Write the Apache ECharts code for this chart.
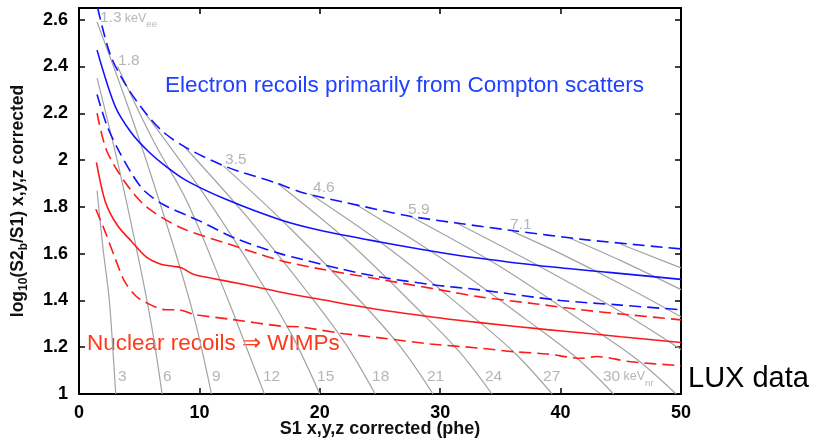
<!DOCTYPE html>
<html>
<head>
<meta charset="utf-8">
<script src="https://cdn.jsdelivr.net/npm/echarts@6/dist/echarts.min.js"></script>
<style>
  html, body { margin: 0; padding: 0; background: #ffffff; }
  #chart { width: 813px; height: 439px; }
</style>
</head>
<body>
<div id="chart"></div>
<script>
// Electron-recoil band: median and upper/lower bounds, [S1 (phe), log10(S2b/S1)]
const erMedian = [[1.5,2.47],[3,2.23],[4.3,2.12],[5.7,2.04],[7.3,1.97],[9,1.91],[12.3,1.83],[16.7,1.745],[20,1.70],[25,1.65],[30,1.605],[33.3,1.58],[38.3,1.548],[44,1.52],[50,1.49]];
const erUpper = [[1.55,2.65],[2.6,2.45],[3.9,2.32],[5.4,2.21],[7,2.12],[9,2.05],[12.3,1.97],[16.5,1.90],[18.6,1.86],[22,1.82],[27.5,1.76],[31.5,1.73],[35.8,1.70],[42,1.66],[50,1.62]];
const erLower = [[1.5,2.28],[2.3,2.15],[3.2,2.05],[4.4,1.94],[5.4,1.87],[7,1.81],[10,1.74],[13,1.665],[16.7,1.60],[18.6,1.575],[21.7,1.535],[25,1.50],[29.4,1.467],[33.3,1.445],[40,1.40],[45,1.38],[50,1.36]];

// Nuclear-recoil band: median and upper/lower bounds
const nrMedian = [[1.45,1.99],[2.2,1.82],[3.2,1.72],[4.4,1.65],[5.6,1.585],[6.8,1.555],[7.8,1.546],[8.5,1.54],[9.5,1.512],[11,1.495],[13.5,1.47],[16.8,1.435],[20,1.405],[25,1.36],[30,1.325],[33.3,1.305],[38.9,1.275],[41.7,1.262],[45,1.245],[50,1.22]];
const nrUpper = [[1.5,2.2],[2.3,2.04],[3.9,1.90],[5.6,1.80],[8.5,1.71],[12.5,1.64],[16.8,1.57],[20,1.535],[25,1.49],[30,1.445],[33.3,1.415],[38,1.385],[41.7,1.36],[45,1.342],[50,1.317]];
const nrLower = [[1.4,1.79],[2.2,1.69],[3.0,1.58],[3.8,1.48],[4.7,1.42],[5.4,1.395],[7.2,1.36],[8.2,1.36],[9.6,1.34],[12.5,1.32],[16.8,1.29],[18.3,1.287],[21.7,1.26],[25,1.24],[29.2,1.214],[33.3,1.196],[36.1,1.181],[38.9,1.171],[41.7,1.153],[43,1.16],[45.8,1.138],[50,1.121]];

// Constant-energy contours (3 to 45 keVnr in steps of 3)
const contour3  = [[1.5,1.87],[2.0,1.62],[2.5,1.41],[2.8,1.2],[3.05,1.0]];
const contour6  = [[1.5,2.35],[3.3,1.97],[5.1,1.54],[6.1,1.27],[6.9,1.0]];
const contour9  = [[1.5,2.59],[4.6,2.15],[7.8,1.64],[9.6,1.32],[11.0,1.0]];
const contour12 = [[3.2,2.40],[6.2,2.08],[9,1.82],[12.4,1.4],[13.9,1.2],[15.4,1.0]];
const contour15 = [[5.5,2.2],[10.3,1.86],[15.1,1.48],[17.8,1.24],[20,1.0]];
const contour18 = [[8.7,2.06],[13.9,1.76],[19.2,1.42],[22.2,1.21],[24.6,1.0]];
const contour21 = [[12,1.975],[17.7,1.70],[23.5,1.39],[26.8,1.195],[29.4,1.0]];
const contour24 = [[16.5,1.9],[22.4,1.65],[28.2,1.36],[31.6,1.18],[34.3,1.0]];
const contour27 = [[19.2,1.855],[25.8,1.62],[32.5,1.34],[36.3,1.17],[39.3,1.0]];
const contour30 = [[23,1.81],[30.1,1.58],[37.1,1.32],[41.2,1.16],[44.4,1.0]];
const contour33 = [[27.5,1.76],[34.8,1.55],[42.1,1.30],[46.3,1.15],[49.6,1.0]];
const contour36 = [[31.4,1.73],[37,1.58],[43,1.41],[47,1.29],[50,1.19]];
const contour39 = [[36,1.695],[40,1.60],[45,1.47],[50,1.33]];
const contour42 = [[40.6,1.67],[45,1.57],[50,1.446]];
const contour45 = [[45,1.64],[50,1.539]];
const contours = [contour3, contour6, contour9, contour12, contour15, contour18, contour21,
                  contour24, contour27, contour30, contour33, contour36, contour39, contour42, contour45];

// Contour labels: nuclear-recoil energies near the bottom, electron-equivalent ones near the top
const nrLabelText = ['3','6','9','12','15','18','21','24','27','30'];
const nrLabelS1   = [3.24, 6.98, 11.05, 15.28, 19.77, 24.34, 28.9, 33.72, 38.54, 43.52];
const nrLabelY    = 1.073;
const eeLabelText = ['1.3','1.8','3.5','4.6','5.9','7.1'];
const eeLabelPos  = [[1.74,2.607],[3.24,2.423],[12.13,2.0],[19.44,1.881],[27.33,1.787],[35.8,1.722]];

const BLUE = '#1111ff';
const RED = '#ff1a1a';
const GREY = '#a3a3a3';
const FONT = '"Liberation Sans", Arial, Helvetica, sans-serif';

const chart = echarts.init(document.getElementById('chart'), null, { renderer: 'canvas' });

const series = [];
contours.forEach(function (c) {
  series.push({
    type: 'line', data: c, showSymbol: false, smooth: 0.35, silent: true, z: 1,
    lineStyle: { color: GREY, width: 1.2 }
  });
});
function band(data, color, dashed) {
  return {
    type: 'line', data: data, showSymbol: false, smooth: 0.3, silent: true, z: 3,
    lineStyle: { color: color, width: 1.6, type: dashed ? [12, 6] : 'solid' }
  };
}
series.push(band(erUpper, BLUE, true), band(erMedian, BLUE, false), band(erLower, BLUE, true));
series.push(band(nrUpper, RED, true), band(nrMedian, RED, false), band(nrLower, RED, true));

// label anchors
const nrLabelData = nrLabelText.map(function (t, i) {
  return [nrLabelS1[i], nrLabelY, i === nrLabelText.length - 1 ? '{n|' + t + '} {k|keV}{s|nr}' : '{n|' + t + '}'];
});
const eeLabelData = eeLabelText.map(function (t, i) {
  return [eeLabelPos[i][0], eeLabelPos[i][1], i === 0 ? '{n|' + t + '} {k|keV}{s|ee}' : '{n|' + t + '}'];
});
const labelRich = {
  n: { fontSize: 15.5, color: GREY, fontFamily: FONT, lineHeight: 22, verticalAlign: 'middle' },
  k: { fontSize: 12.5, color: GREY, fontFamily: FONT, lineHeight: 22, verticalAlign: 'middle' },
  s: { fontSize: 9.5, color: GREY, fontFamily: FONT, lineHeight: 10, verticalAlign: 'bottom' }
};
[nrLabelData, eeLabelData].forEach(function (d) {
  series.push({
    type: 'scatter', data: d, symbolSize: 0, silent: true, z: 4,
    label: {
      show: true, position: 'inside', align: 'left', verticalAlign: 'middle',
      formatter: function (p) { return p.data[2]; }, rich: labelRich
    }
  });
});

const option = {
  backgroundColor: '#ffffff',
  animation: false,
  grid: { left: 79, right: 132, top: 8, bottom: 45, containLabel: false, outerBoundsMode: 'none' },
  xAxis: [{
    type: 'value', min: 0, max: 50, interval: 10, position: 'bottom',
    name: 'S1 x,y,z corrected (phe)', nameLocation: 'middle', nameGap: 26, nameMoveOverlap: false,
    nameTextStyle: { fontFamily: FONT, fontWeight: 'bold', fontSize: 18, color: '#111' },
    axisLine: { show: true, onZero: false, lineStyle: { color: '#000', width: 2 } },
    axisTick: { show: true, inside: true, length: 6, lineStyle: { color: '#000', width: 1.5 } },
    axisLabel: { fontFamily: FONT, fontWeight: 'bold', fontSize: 18, color: '#000', margin: 10 },
    splitLine: { show: false }
  }, {
    type: 'value', min: 0, max: 50, interval: 10, position: 'top',
    axisLine: { show: true, onZero: false, lineStyle: { color: '#000', width: 2 } },
    axisTick: { show: true, inside: true, length: 6, lineStyle: { color: '#000', width: 1.5 } },
    axisLabel: { show: false }, splitLine: { show: false }
  }],
  yAxis: [{
    type: 'value', min: 1, max: 2.65, interval: 0.2, position: 'left',
    name: '{a|log}{s|10}{a|(S2}{s|b}{a|/S1) x,y,z corrected}',
    nameLocation: 'middle', nameGap: 49, nameRotate: 90, nameMoveOverlap: false,
    nameTextStyle: {
      rich: {
        a: { fontFamily: FONT, fontWeight: 'bold', fontSize: 17.5, color: '#111', lineHeight: 24, verticalAlign: 'middle' },
        s: { fontFamily: FONT, fontWeight: 'bold', fontSize: 12, color: '#111', lineHeight: 12, verticalAlign: 'bottom' }
      }
    },
    axisLine: { show: true, onZero: false, lineStyle: { color: '#000', width: 2 } },
    axisTick: { show: true, inside: true, length: 6, lineStyle: { color: '#000', width: 1.5 } },
    axisLabel: {
      fontFamily: FONT, fontWeight: 'bold', fontSize: 18, color: '#000', margin: 11,
      showMaxLabel: false,
      formatter: function (v) { return String(Math.round(v * 10) / 10); }
    },
    splitLine: { show: false }
  }, {
    type: 'value', min: 1, max: 2.65, interval: 0.2, position: 'right',
    axisLine: { show: true, onZero: false, lineStyle: { color: '#000', width: 2 } },
    axisTick: { show: true, inside: true, length: 6, lineStyle: { color: '#000', width: 1.5 } },
    axisLabel: { show: false }, splitLine: { show: false }
  }],
  graphic: [
    { type: 'text', left: 165, top: 74, silent: true,
      style: { text: 'Electron recoils primarily from Compton scatters', fill: '#2040ff',
               font: '22.5px "Liberation Sans", Arial, sans-serif' } },
    { type: 'text', left: 87, top: 332, silent: true,
      style: { text: 'Nuclear recoils \u21D2 WIMPs', fill: '#ff3a1a',
               font: '22.5px "Liberation Sans", Arial, sans-serif' } },
    { type: 'text', left: 688, top: 364, silent: true,
      style: { text: 'LUX data', fill: '#000', font: '29px "Liberation Sans", sans-serif' } }
  ],
  series: series
};
chart.setOption(option);
</script>
</body>
</html>
